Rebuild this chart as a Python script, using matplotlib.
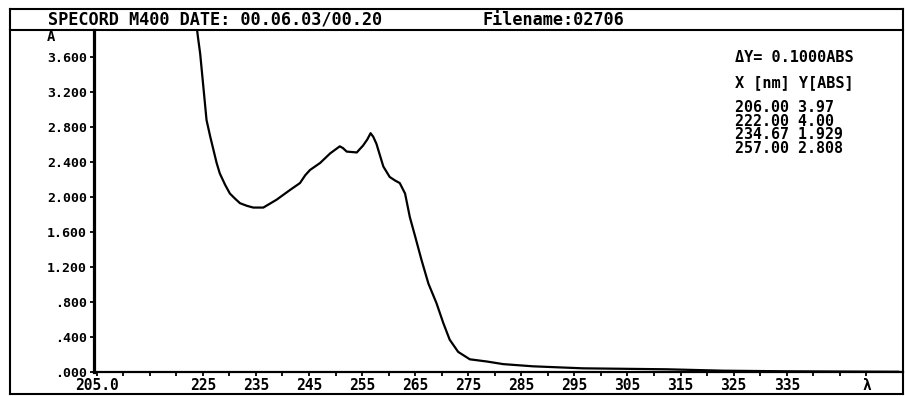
import numpy as np
import matplotlib
matplotlib.use('Agg')
import matplotlib.pyplot as plt
from matplotlib.lines import Line2D

plt.rcParams['font.family'] = ['DejaVu Sans Mono', 'DejaVu Sans']
plt.rcParams['font.weight'] = 'bold'

# spectrum (nm, absorbance)
wavelength = [223.8, 224.1, 224.5, 225.1, 225.7, 226.4, 227.0, 227.6, 228.2,
              229.2, 230.1, 231.1, 232.0, 233.3, 234.5, 236.4, 238.9, 241.4,
              243.3, 244.3, 245.2, 247.1, 249.0, 250.8, 251.4, 252.1, 254.0,
              255.2, 256.0, 256.6, 257.1, 257.7, 259.0, 260.2, 261.2, 262.1,
              263.1, 264.0, 265.0, 266.2, 267.5, 269.0, 270.3, 271.5, 273.1,
              275.3, 278.5, 281.6, 287.2, 296.6, 312.4, 323.0, 335.0, 350.1,
              356.0]
absorbance = [3.97, 3.82, 3.64, 3.26, 2.88, 2.69, 2.54, 2.39, 2.27,
              2.14, 2.04, 1.98, 1.93, 1.90, 1.88, 1.88, 1.97, 2.08,
              2.16, 2.25, 2.31, 2.39, 2.50, 2.58, 2.56, 2.52, 2.51,
              2.59, 2.66, 2.73, 2.69, 2.61, 2.35, 2.23, 2.19, 2.16,
              2.04, 1.77, 1.55, 1.28, 1.01, 0.79, 0.56, 0.37, 0.23,
              0.145, 0.12, 0.09, 0.065, 0.042, 0.031, 0.015, 0.008, 0.004,
              0.003]

x_major = [205, 225, 235, 245, 255, 265, 275, 285, 295, 305, 315, 325, 335, 350]
x_labels = ['205.0', '225', '235', '245', '255', '265', '275', '285', '295',
            '305', '315', '325', '335', 'λ']
x_minor = [210, 215, 220, 230, 240, 250, 260, 270, 280, 290, 300, 310, 320,
           330, 340, 345]
y_ticks = [0.0, 0.4, 0.8, 1.2, 1.6, 2.0, 2.4, 2.8, 3.2, 3.6]
y_labels = ['.000', '.400', '.800', '1.200', '1.600', '2.000', '2.400',
            '2.800', '3.200', '3.600']

header = 'SPECORD M400 DATE: 00.06.03/00.20'
filename = 'Filename:02706'
info_lines = ['ΔY= 0.1000ABS', 'X [nm] Y[ABS]']
peak_lines = ['206.00 3.97', '222.00 4.00', '234.67 1.929', '257.00 2.808']

W, H = 905, 396
fig = plt.figure(figsize=(W / 100, H / 100), dpi=100)
fig.patch.set_facecolor('white')


def fx(px):
    return px / W


def fy(py):
    return 1 - py / H


ax = fig.add_axes([fx(94), fy(372), fx(903) - fx(94), fy(30) - fy(372)])
ax.plot(wavelength, absorbance, color='black', lw=1.6)
ax.set_xlim(204.5, 356.9)
ax.set_ylim(0, 3.91)

ax.set_xticks(x_major)
ax.set_xticklabels(x_labels)
ax.set_xticks(x_minor, minor=True)
ax.set_yticks(y_ticks)
ax.set_yticklabels(y_labels)
ax.tick_params(axis='x', which='both', direction='out', length=3, width=1.3,
               pad=1, labelsize=10.5)
ax.tick_params(axis='y', direction='out', length=3, width=1.3, pad=2,
               labelsize=9.5)

for s in ['top', 'right']:
    ax.spines[s].set_visible(False)
ax.spines['left'].set_linewidth(2.3)
ax.spines['bottom'].set_linewidth(1.6)

# outer frame and header row
frame = [((10, 9), (903, 9)), ((10, 394), (903, 394)), ((10, 9), (10, 394)),
         ((903, 9), (903, 394)), ((10, 30), (903, 30))]
for (x0, y0), (x1, y1) in frame:
    fig.add_artist(Line2D([fx(x0), fx(x1)], [fy(y0), fy(y1)], color='black',
                          lw=1.5, transform=fig.transFigure))

fig.text(fx(48), fy(20), header, fontsize=12.2, va='center', ha='left')
fig.text(fx(482), fy(20), filename, fontsize=12.2, va='center', ha='left')
fig.text(fx(51), fy(37), 'A', fontsize=10, va='center', ha='center')

fig.text(fx(735), fy(57), info_lines[0], fontsize=11, va='center', ha='left')
fig.text(fx(735), fy(83), info_lines[1], fontsize=11, va='center', ha='left')
for i, line in enumerate(peak_lines):
    fig.text(fx(735), fy(108 + i * 13.5), line, fontsize=10.8,
             va='center', ha='left')

fig.savefig('out.png', dpi=100, facecolor='white')
